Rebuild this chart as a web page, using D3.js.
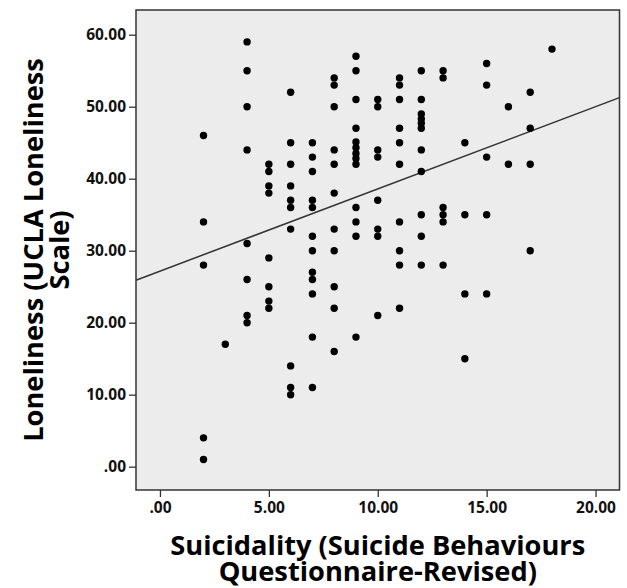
<!DOCTYPE html>
<html>
<head>
<meta charset="utf-8">
<script src="https://cdnjs.cloudflare.com/ajax/libs/d3/7.8.5/d3.min.js"></script>
<style>
  body { margin: 0; background: #fff; }
  svg { display: block; }
</style>
</head>
<body>
<figure id="scatter" style="margin:0"></figure>
<script>
// one entry per respondent: suicidality score (x) and loneliness score (y)
const suicidality = [
  2, 2, 2, 2, 2,
  3,
  4, 4, 4, 4, 4, 4, 4, 4,
  5, 5, 5, 5, 5, 5, 5, 5,
  6, 6, 6, 6, 6, 6, 6, 6, 6, 6,
  7, 7, 7, 7, 7, 7, 7, 7, 7, 7, 7, 7,
  8, 8, 8, 8, 8, 8, 8, 8, 8, 8, 8,
  9, 9, 9, 9, 9, 9, 9, 9, 9, 9, 9, 9, 9,
  10, 10, 10, 10, 10, 10, 10, 10,
  11, 11, 11, 11, 11, 11, 11, 11, 11, 11,
  12, 12, 12, 12, 12, 12, 12, 12, 12, 12, 12,
  13, 13, 13, 13, 13, 13,
  14, 14, 14, 14,
  15, 15, 15, 15, 15,
  16, 16,
  17, 17, 17, 17,
  18
];
const loneliness = [
  46, 34, 28, 4, 1,
  17,
  59, 55, 50, 44, 31, 26, 21, 20,
  42, 41, 39, 38, 29, 25, 23, 22,
  52, 45, 42, 39, 37, 36, 33, 14, 11, 10,
  45, 43, 41, 37, 36, 32, 30, 27, 26, 24, 18, 11,
  54, 53, 50, 44, 42, 38, 33, 30, 25, 22, 16,
  57, 55, 51, 47, 45.1, 44.3, 43.5, 42.8, 42, 36, 34, 32, 18,
  51, 50, 44, 43, 37, 33, 32, 21,
  54, 53, 51, 47, 45, 42, 34, 30, 28, 22,
  55, 51, 49, 48.3, 47.7, 47, 44, 41, 35, 32, 28,
  55, 54, 36, 35, 34, 28,
  45, 35, 24, 15,
  56, 53, 43, 35, 24,
  50, 42,
  52, 47, 42, 30,
  58
];

const xTicks = [0, 5, 10, 15, 20];
const xTickLabels = ['.00', '5.00', '10.00', '15.00', '20.00'];
const yTicks = [0, 10, 20, 30, 40, 50, 60];
const yTickLabels = ['.00', '10.00', '20.00', '30.00', '40.00', '50.00', '60.00'];

// visible value range of each axis
const xDomain = [-1.1, 21.1];
const yDomain = [-3.24, 63.43];

// fit line
const fitIntercept = 27.16;
const fitSlope = 1.142;

const xTitle = ['Suicidality (Suicide Behaviours', 'Questionnaire-Revised)'];
const yTitle = ['Loneliness (UCLA Loneliness', 'Scale)'];

const width = 627, height = 588;
const plot = { left: 136, right: 619.5, top: 10, bottom: 490 };
const font = '"Open Sans", "DejaVu Sans", sans-serif';

const svg = d3.select('figure#scatter')
  .append('svg')
  .attr('width', width)
  .attr('height', height);

svg.append('rect')
  .attr('width', width)
  .attr('height', height)
  .attr('fill', '#fff');

const x = d3.scaleLinear().domain(xDomain).range([plot.left, plot.right]);
const y = d3.scaleLinear().domain(yDomain).range([plot.bottom, plot.top]);

// plot background
svg.append('rect')
  .attr('x', plot.left)
  .attr('y', plot.top)
  .attr('width', plot.right - plot.left)
  .attr('height', plot.bottom - plot.top)
  .attr('fill', '#ececec');

// axes
const xAxis = svg.append('g')
  .attr('transform', `translate(0, ${plot.bottom})`)
  .call(d3.axisBottom(x)
    .tickValues(xTicks)
    .tickFormat((d, i) => xTickLabels[i])
    .tickSize(7)
    .tickSizeOuter(0)
    .tickPadding(5));

const yAxis = svg.append('g')
  .attr('transform', `translate(${plot.left}, 0)`)
  .call(d3.axisLeft(y)
    .tickValues(yTicks)
    .tickFormat((d, i) => yTickLabels[i])
    .tickSize(7)
    .tickSizeOuter(0)
    .tickPadding(3));

[xAxis, yAxis].forEach(g => {
  g.select('.domain').remove();
  g.selectAll('line').attr('stroke', '#333').attr('stroke-width', 1.3);
  g.selectAll('text')
    .attr('fill', '#111')
    .style('font-family', font)
    .style('font-weight', 'bold')
    .style('font-size', '15.5px');
});

// fit line
svg.append('line')
  .attr('x1', x(xDomain[0]))
  .attr('y1', y(fitIntercept + fitSlope * xDomain[0]))
  .attr('x2', x(xDomain[1]))
  .attr('y2', y(fitIntercept + fitSlope * xDomain[1]))
  .attr('stroke', '#333')
  .attr('stroke-width', 1.5);

// points
svg.selectAll('circle.pt')
  .data(suicidality.map((s, i) => ({ s: s, l: loneliness[i] })))
  .enter()
  .append('circle')
  .attr('class', 'pt')
  .attr('cx', d => x(d.s))
  .attr('cy', d => y(d.l))
  .attr('r', 3.7)
  .attr('fill', '#000');

// plot border
svg.append('rect')
  .attr('x', plot.left)
  .attr('y', plot.top)
  .attr('width', plot.right - plot.left)
  .attr('height', plot.bottom - plot.top)
  .attr('fill', 'none')
  .attr('stroke', '#333')
  .attr('stroke-width', 1.5);

// axis titles, squeezed to the narrow face of the original
const titleSize = 27;
const addLine = (g, text) => g.append('text')
  .attr('text-anchor', 'middle')
  .attr('fill', '#000')
  .style('font-family', font)
  .style('font-weight', 'bold')
  .style('font-size', titleSize + 'px')
  .text(text);

const cx = (plot.left + plot.right) / 2;
const cy = (plot.top + plot.bottom) / 2;

const titleLines = [
  { text: xTitle[0], t: `translate(${cx}, 555)` },
  { text: xTitle[1], t: `translate(${cx}, 581)` },
  { text: yTitle[0], t: `translate(43, ${cy}) rotate(-90)` },
  { text: yTitle[1], t: `translate(69, ${cy}) rotate(-90)` }
].map(d => {
  const g = svg.append('g').attr('transform', d.t);
  return addLine(g, d.text);
});

const squeeze = 415 / titleLines[0].node().getComputedTextLength();
titleLines.forEach(t => {
  t.attr('textLength', t.node().getComputedTextLength() * squeeze)
   .attr('lengthAdjust', 'spacingAndGlyphs');
});
</script>
</body>
</html>
